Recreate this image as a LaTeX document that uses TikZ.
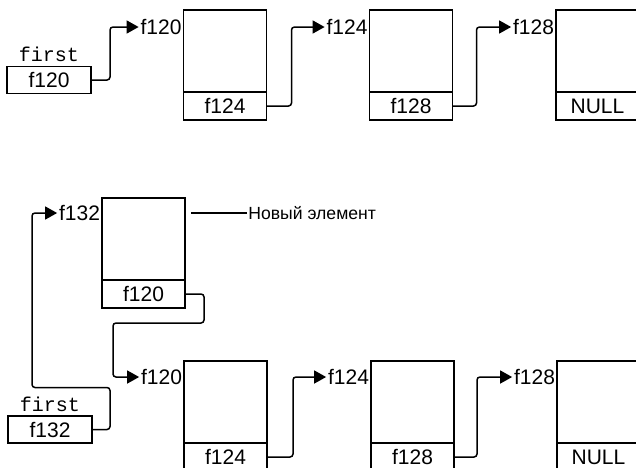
\documentclass[tikz,border=0pt]{standalone}
\usepackage{fontspec}
\setmainfont{Liberation Sans}
\setmonofont{Liberation Mono}
\usetikzlibrary{arrows.meta,positioning}

\begin{document}
\begin{tikzpicture}[x=0.5pt, y=-0.5pt,
        datacell/.style={draw, line width=0.75pt, minimum width=41.5pt, minimum height=41pt, outer sep=0pt, inner sep=0pt},
        ptrcell/.style={draw, line width=0.75pt, minimum width=41.5pt, minimum height=14pt, outer sep=0pt, inner sep=0pt, font=\fontsize{10.5}{12}\selectfont},
        headbox/.style={draw, line width=0.75pt, minimum width=42pt, minimum height=13.5pt, outer sep=0pt, inner sep=0pt, font=\fontsize{10.5}{12}\selectfont},
        headname/.style={inner sep=0pt, font=\ttfamily\fontsize{10}{12}\selectfont},
        addr/.style={anchor=east, inner sep=0.8pt, font=\fontsize{10.5}{12}\selectfont},
        link/.style={-{Triangle[length=6pt, width=6.5pt]}, line width=0.75pt, rounded corners=1.5pt}
    ]
    \useasboundingbox (0,0) rectangle (636,467);
    \clip (0,0) rectangle (636,467);
    % Список
    \node[headbox] (first1) at (49,80) {f120};
    \node[headname, above=2pt of first1] (firstname1) {first};
    \node[datacell] (a1) at (225,51) {};
    \node[ptrcell, below=0pt of a1] (a1p) {f124};
    \node[datacell] (a2) at (411,51) {};
    \node[ptrcell, below=0pt of a2] (a2p) {f128};
    \node[datacell] (a3) at (597.5,51) {};
    \node[ptrcell, below=0pt of a3] (a3p) {NULL};
    \node[addr] (a1addr) at ([yshift=-8.5pt]a1.north west) {f120};
    \node[addr] (a2addr) at ([yshift=-8.5pt]a2.north west) {f124};
    \node[addr] (a3addr) at ([yshift=-8.5pt]a3.north west) {f128};
    % Связи
    \draw[link] (first1.east) -- ++(19,0) |- (a1addr.west);
    \draw[link] (a1p.east) -- ++(25,0) |- (a2addr.west);
    \draw[link] (a2p.east) -- ++(24,0) |- (a3addr.west);

    % Новый элемент
    \node[datacell] (n) at (143.5,239) {};
    \node[ptrcell, below=0pt of n] (np) {f120};
    \node[addr] (naddr) at ([yshift=-7.5pt]n.north west) {f132};
    \node[anchor=west, inner sep=0.5pt, font=\fontsize{8.8}{11}\selectfont] (newlbl) at ([xshift=31pt, yshift=-7.5pt]n.north east) {Новый элемент};
    \draw[line width=0.75pt] (newlbl.west) -- ++(-56,0);
    % Список после вставки
    \node[headbox] (first2) at (50,429.5) {f132};
    \node[headname, above=2pt of first2] (firstname2) {first};
    \node[datacell] (b1) at (225.5,402) {};
    \node[ptrcell, below=0pt of b1] (b1p) {f124};
    \node[datacell] (b2) at (412.5,402) {};
    \node[ptrcell, below=0pt of b2] (b2p) {f128};
    \node[datacell] (b3) at (598.5,402) {};
    \node[ptrcell, below=0pt of b3] (b3p) {NULL};
    \node[addr] (b1addr) at ([yshift=-8pt]b1.north west) {f120};
    \node[addr] (b2addr) at ([yshift=-8pt]b2.north west) {f124};
    \node[addr] (b3addr) at ([yshift=-8pt]b3.north west) {f128};
    % Связи
    \draw[link] (first2.east) -- ++(18,0) |- ++(-78,-42) |- (naddr.west);
    \draw[link] (np.east) -- ++(19,0) |- ++(-91,29) |- (b1addr.west);
    \draw[link] (b1p.east) -- ++(26,0) |- (b2addr.west);
    \draw[link] (b2p.east) -- ++(23,0) |- (b3addr.west);
\end{tikzpicture}
\end{document}
